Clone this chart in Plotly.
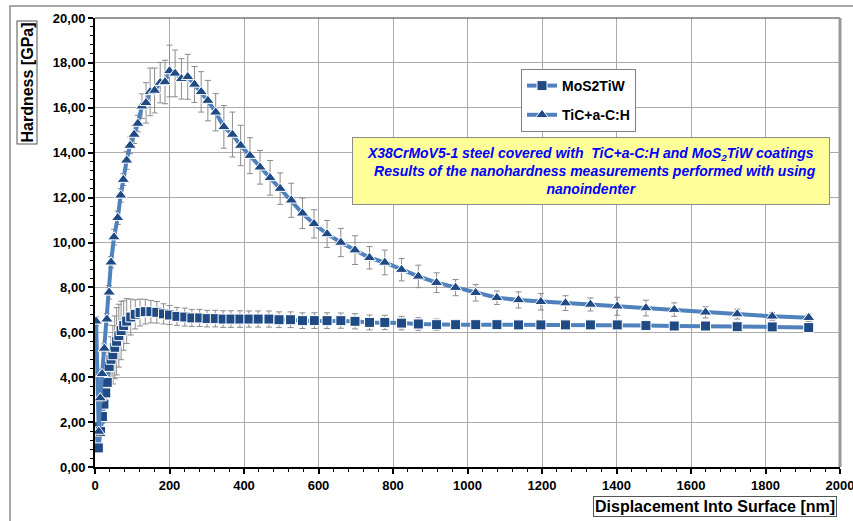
import plotly.graph_objects as go

# ---------------- data ----------------
series_names = ["MoS2TiW", "TiC+a-C:H"]

mos2_x = [2, 9, 15, 20, 24, 29, 33, 38, 43, 48,
          53, 58, 64, 70, 77, 85, 96, 108, 121, 135,
          150, 166, 184, 200, 220, 241, 260, 281, 301, 323,
          344, 365, 389, 413, 438, 467, 494, 525, 557, 589,
          623, 660, 698, 737, 778, 823, 868, 917, 968, 1022,
          1079, 1137, 1197, 1263, 1330, 1402, 1479, 1555, 1639, 1724,
          1818, 1916]
mos2_y = [1.80, 0.85, 1.58, 2.25, 2.80, 3.30, 3.77, 4.48, 4.80, 5.00,
          5.33, 5.60, 5.85, 6.08, 6.30, 6.50, 6.68, 6.80, 6.88, 6.92,
          6.92, 6.89, 6.82, 6.77, 6.71, 6.68, 6.64, 6.64, 6.61, 6.61,
          6.59, 6.59, 6.59, 6.59, 6.59, 6.59, 6.56, 6.56, 6.52, 6.52,
          6.52, 6.52, 6.49, 6.44, 6.44, 6.41, 6.37, 6.34, 6.34, 6.34,
          6.34, 6.33, 6.33, 6.33, 6.33, 6.33, 6.30, 6.28, 6.28, 6.25,
          6.24, 6.21]
mos2_err = [0.2, 0.2, 0.2, 0.3, 0.4, 0.5, 0.6, 0.8, 1.0, 1.3,
            1.4, 1.5, 1.4, 1.3, 1.1, 1.0, 0.8, 0.65, 0.6, 0.55,
            0.5, 0.48, 0.45, 0.42, 0.40, 0.40, 0.38, 0.38, 0.37, 0.37,
            0.37, 0.37, 0.37, 0.36, 0.36, 0.36, 0.35, 0.35, 0.35, 0.35,
            0.35, 0.34, 0.34, 0.33, 0.32, 0.30, 0.28, 0.25, 0.20, 0.18,
            0.16, 0.15, 0.15, 0.14, 0.14, 0.13, 0.13, 0.12, 0.12, 0.12,
            0.10, 0.10]

tic_x = [3, 10, 14, 19, 25, 32, 38, 43, 51, 61,
         69, 76, 85, 94, 105, 115, 126, 137, 148, 160,
         175, 188, 200, 215, 232, 249, 267, 285, 303, 324,
         346, 369, 391, 416, 443, 470, 497, 527, 557, 588,
         623, 660, 698, 737, 778, 823, 868, 917, 968, 1022,
         1079, 1137, 1197, 1263, 1330, 1402, 1479, 1555, 1639, 1724,
         1818, 1916]
tic_y = [6.49, 1.58, 3.07, 4.15, 5.28, 6.58, 7.78, 9.12, 10.24, 11.10,
         12.10, 12.80, 13.66, 14.32, 14.81, 15.30, 16.07, 16.22, 16.71, 16.77,
         17.12, 17.15, 17.64, 17.53, 17.29, 17.38, 17.04, 16.71, 16.32, 15.80,
         15.15, 14.81, 14.32, 13.87, 13.35, 12.88, 12.40, 11.88, 11.30, 10.83,
         10.38, 10.00, 9.66, 9.32, 9.11, 8.79, 8.49, 8.21, 7.99, 7.76,
         7.54, 7.44, 7.36, 7.30, 7.24, 7.16, 7.08, 7.01, 6.89, 6.81,
         6.71, 6.65]
tic_err = [0.2, 0.2, 0.2, 0.2, 0.2, 0.25, 0.3, 0.25, 0.35, 0.3,
           0.3, 0.26, 0.4, 0.37, 0.4, 0.37, 0.55, 0.9, 1.06, 1.0,
           0.9, 0.97, 1.15, 1.04, 0.9, 1.0, 0.8, 0.9, 0.9, 0.83,
           0.95, 1.0, 0.9, 0.8, 0.75, 0.77, 0.7, 0.76, 0.68, 0.63,
           0.6, 0.63, 0.64, 0.5, 0.55, 0.5, 0.5, 0.44, 0.36, 0.37,
           0.3, 0.36, 0.37, 0.33, 0.29, 0.4, 0.35, 0.3, 0.25, 0.22,
           0.17, 0.16]

x_tick_vals = [0, 200, 400, 600, 800, 1000, 1200, 1400, 1600, 1800, 2000]
x_tick_text = ["0", "200", "400", "600", "800", "1000", "1200", "1400", "1600", "1800", "2000"]
y_tick_vals = [0, 2, 4, 6, 8, 10, 12, 14, 16, 18, 20]
y_tick_text = ["0,00", "2,00", "4,00", "6,00", "8,00", "10,00", "12,00", "14,00", "16,00", "18,00", "20,00"]
x_title = "Displacement Into Surface [nm]"
y_title = "Hardness [GPa]"
note_lines = ["X38CrMoV5-1 steel covered with  TiC+a-C:H and MoS<sub>2</sub>TiW coatings",
              "  Results of the nanohardness measurements performed with using",
              "nanoindenter"]

# ---------------- layout helpers ----------------
W, H = 853, 521
L, R, T, B = 95, 13, 18, 54
PW = W - L - R
PH = H - T - B


def px(x):
    return (x - L) / PW


def py(y):
    return (H - B - y) / PH


FONT = "Liberation Sans, Arial, sans-serif"
LINE_C = "#4F81BD"
MARK_C = "#1F4A84"
ERR_C = "#8C8C8C"
GRID_C = "#ABABAB"

fig = go.Figure()

fig.add_trace(go.Scatter(
    x=mos2_x, y=mos2_y, mode="lines+markers", name="<b>" + series_names[0] + "</b>",
    legendgroup="a",
    line=dict(color=LINE_C, width=4),
    marker=dict(symbol="square", size=10, color=MARK_C, line=dict(color="white", width=1)),
    error_y=dict(type="data", array=mos2_err, color=ERR_C, thickness=1, width=3),
))
fig.add_trace(go.Scatter(
    x=tic_x, y=tic_y, mode="lines+markers", name="<b>" + series_names[1] + "</b>",
    legendgroup="b",
    line=dict(color=LINE_C, width=4),
    marker=dict(symbol="triangle-up", size=11, color=MARK_C, line=dict(color="white", width=1)),
    error_y=dict(type="data", array=tic_err, color=ERR_C, thickness=1, width=3),
))

axis_common = dict(
    showgrid=True, gridcolor=GRID_C, gridwidth=1,
    showline=True, linecolor="black", linewidth=2,
    ticks="outside", ticklen=5, tickwidth=2, tickcolor="black",
    zeroline=False, ticklabeloverflow="allow", automargin=False,
    tickfont=dict(family=FONT, size=13, color="black"),
)

fig.update_layout(
    width=W, height=H, autosize=False,
    margin=dict(l=L, r=R, t=T, b=B, pad=0, autoexpand=False),
    paper_bgcolor="white", plot_bgcolor="white",
    font=dict(family=FONT, color="black"),
    xaxis=dict(range=[0, 2000], tickvals=x_tick_vals,
               ticktext=["<b>" + t + "</b>" for t in x_tick_text],
               minor=dict(dtick=40, ticks="outside", ticklen=3, tickwidth=1, tickcolor="black", showgrid=False),
               **axis_common),
    yaxis=dict(range=[0, 20], tickvals=y_tick_vals,
               ticktext=["<b>" + t + "</b>" for t in y_tick_text],
               minor=dict(dtick=0.4, ticks="outside", ticklen=3, tickwidth=1, tickcolor="black", showgrid=False),
               **axis_common),
    legend=dict(x=px(521), y=py(69), xanchor="left", yanchor="top",
                bgcolor="white", bordercolor="#808080", borderwidth=1,
                font=dict(family=FONT, size=14, color="black"),
                tracegroupgap=8, itemwidth=30),
    showlegend=True,
)

# outer chart border and plot area edges
fig.add_shape(type="rect", xref="paper", yref="paper",
              x0=px(10), x1=px(900), y0=py(600), y1=py(6),
              line=dict(color="#8C8C8C", width=1.5), layer="below")
fig.add_shape(type="line", xref="paper", yref="paper", x0=0, x1=1, y0=1, y1=1,
              line=dict(color="#333333", width=1))
fig.add_shape(type="line", xref="paper", yref="paper", x0=1, x1=1, y0=0, y1=1,
              line=dict(color="#999999", width=3))

# text box
fig.add_annotation(
    xref="paper", yref="paper", x=px(590.5), y=py(171), xanchor="center", yanchor="middle",
    text="<b><i>" + "<br>".join(note_lines) + "</i></b>",
    showarrow=False, align="center", width=474, height=64,
    bgcolor="#FFFF99", bordercolor="#8C8C8C", borderwidth=1,
    font=dict(family=FONT, size=14, color="#0000FF"),
)

# axis titles in boxes
fig.add_annotation(
    xref="paper", yref="paper", x=px(27.5), y=py(83), xanchor="center", yanchor="middle",
    text="<b>" + y_title + "</b>", textangle=-90, showarrow=False,
    bgcolor="white", bordercolor="#555555", borderwidth=1, borderpad=1,
    font=dict(family=FONT, size=16, color="black"),
)
fig.add_annotation(
    xref="paper", yref="paper", x=px(714.5), y=py(506.5), xanchor="center", yanchor="middle",
    text="<b>" + x_title + "</b>", showarrow=False,
    bgcolor="white", bordercolor="#555555", borderwidth=1, borderpad=1,
    font=dict(family=FONT, size=16, color="black"),
)

fig.write_html("out.html", config={"displayModeBar": False},
               post_script="document.body.style.margin='0';")
